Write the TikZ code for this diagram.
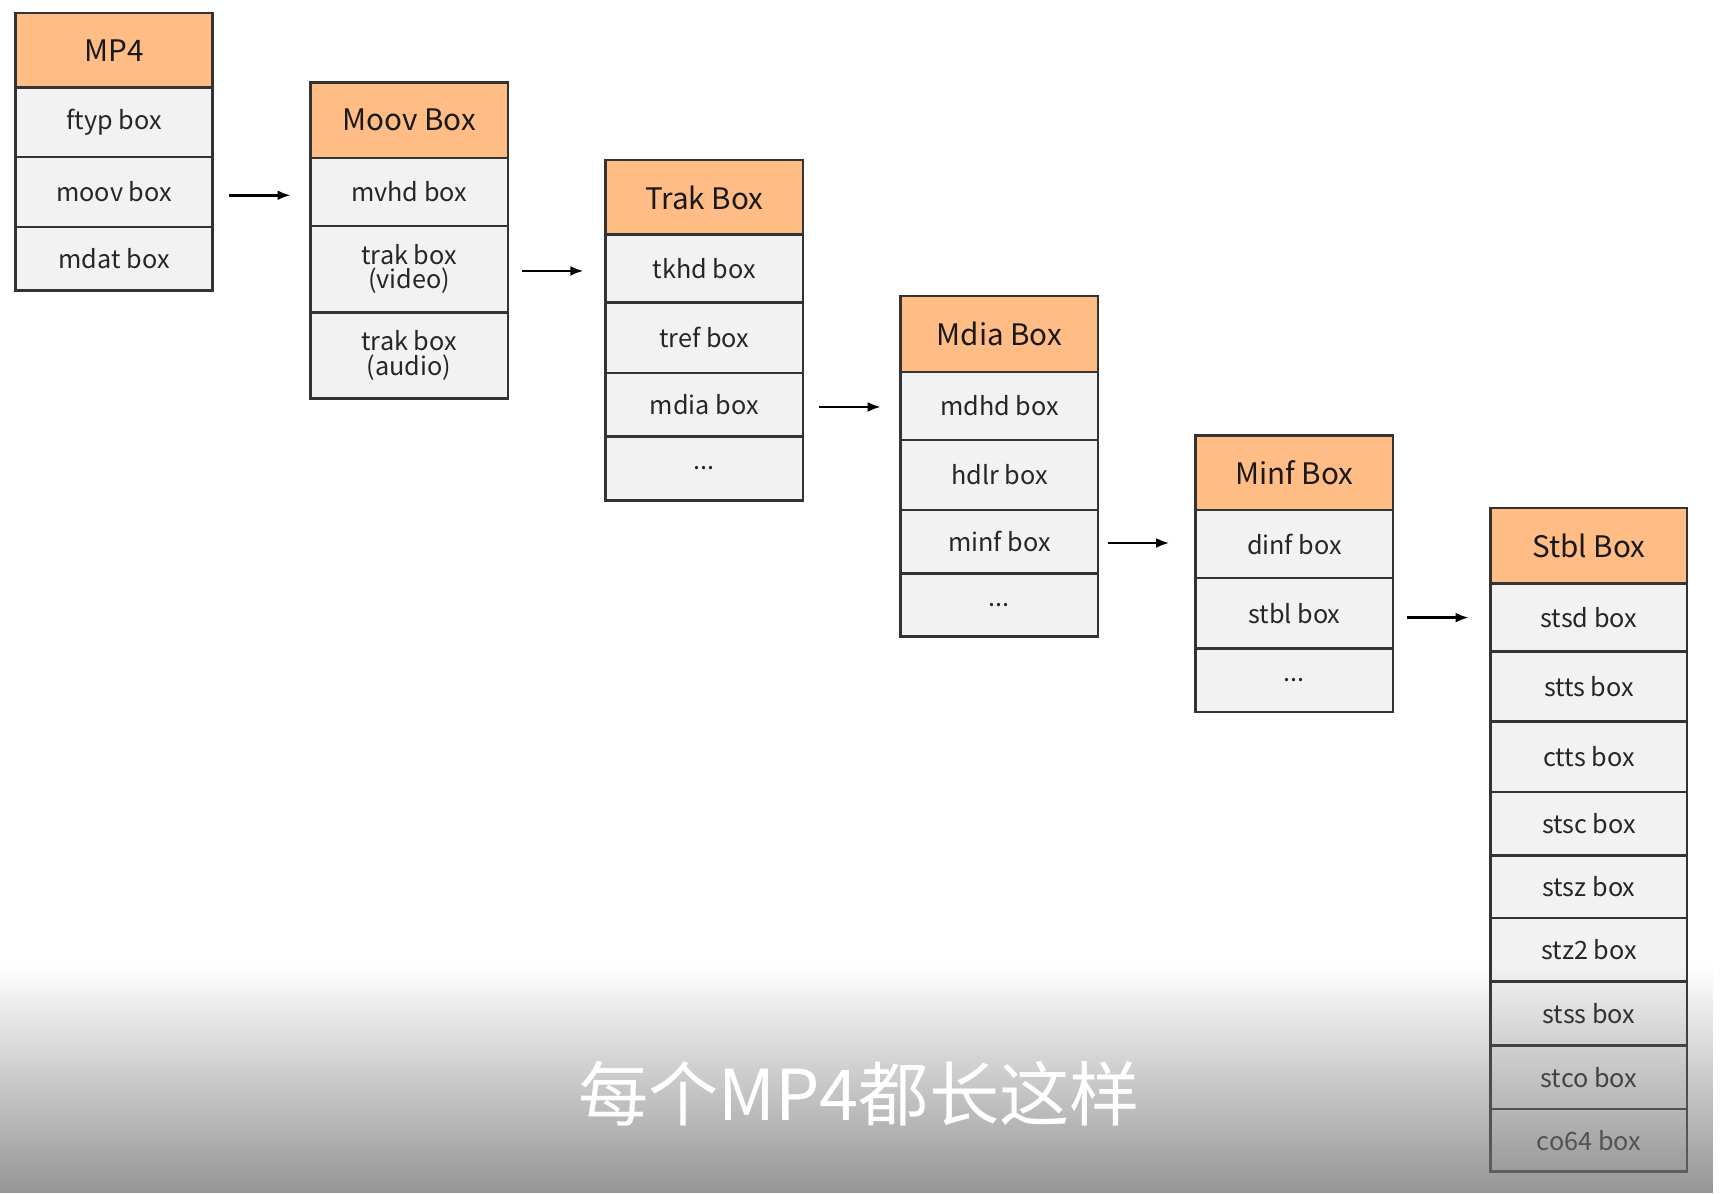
\documentclass[tikz,border=0pt]{standalone}
\usepackage{fontspec}
\setmainfont{Noto Sans CJK SC}
\usetikzlibrary{fadings,arrows.meta}
\tikzfading[name=fadeup, top color=transparent!100, bottom color=transparent!25]
\begin{document}
\begin{tikzpicture}[x=1pt,y=-1pt,
  cell/.style={draw=black!80,line width=2.4pt,fill=black!5},
  head/.style={draw=black!80,line width=2.4pt,fill=orange!45!white!95!red},
  txt/.style={font=\fontsize{23}{26}\selectfont,align=center,text=black!85},
  htxt/.style={font=\fontsize{27}{30}\selectfont,text=black!90},
  arr/.style={-{Latex[length=12pt,width=9pt]},line width=2.4pt}]
\useasboundingbox (0,0) rectangle (1568,1088);
\fill[white] (0,0) rectangle (1568,1088);
\newcommand{\hd}[6]{\draw[head] (#2,#3) rectangle (#4,#5); \node[htxt] (#1) at ({(#2+#4)/2},{(#3+#5)/2}) {#6};}
\newcommand{\cl}[6]{\draw[cell] (#2,#3) rectangle (#4,#5); \node[txt] (#1) at ({(#2+#4)/2},{(#3+#5)/2}) {#6};}
% MP4
\hd{mp4}{14}{12}{194}{80}{MP4}
\cl{ftyp}{14}{80}{194}{143}{ftyp box}
\cl{moov}{14}{143}{194}{207}{moov box}
\cl{mdat}{14}{207}{194}{265}{mdat box}
% Moov
\hd{moovh}{283}{75}{463}{144}{Moov Box}
\cl{mvhd}{283}{144}{463}{206}{mvhd box}
\cl{trakv}{283}{206}{463}{285}{trak box\\[-4pt](video)}
\cl{traka}{283}{285}{463}{363}{trak box\\[-4pt](audio)}
% Trak
\hd{trakh}{552}{146}{732}{214}{Trak Box}
\cl{tkhd}{552}{214}{732}{276}{tkhd box}
\cl{tref}{552}{276}{732}{340}{tref box}
\cl{mdia}{552}{340}{732}{398}{mdia box}
\cl{td}{552}{398}{732}{456}{...}
% Mdia
\hd{mdiah}{821}{270}{1001}{339}{Mdia Box}
\cl{mdhd}{821}{339}{1001}{401}{mdhd box}
\cl{hdlr}{821}{401}{1001}{465}{hdlr box}
\cl{minf}{821}{465}{1001}{523}{minf box}
\cl{md}{821}{523}{1001}{580}{...}
% Minf
\hd{minfh}{1090}{397}{1270}{465}{Minf Box}
\cl{dinf}{1090}{465}{1270}{527}{dinf box}
\cl{stbl}{1090}{527}{1270}{591}{stbl box}
\cl{mnd}{1090}{591}{1270}{649}{...}
% Stbl
\hd{stblh}{1359}{463}{1538}{532}{Stbl Box}
\cl{stsd}{1359}{532}{1538}{594}{stsd box}
\cl{stts}{1359}{594}{1538}{658}{stts box}
\cl{ctts}{1359}{658}{1538}{722}{ctts box}
\cl{stsc}{1359}{722}{1538}{780}{stsc box}
\cl{stsz}{1359}{780}{1538}{837}{stsz box}
\cl{stz}{1359}{837}{1538}{895}{stz2 box}
\cl{stss}{1359}{895}{1538}{953}{stss box}
\cl{stco}{1359}{953}{1538}{1011}{stco box}
\cl{co}{1359}{1011}{1538}{1068}{co64 box}
% arrows
\coordinate (a1) at (209,178); \coordinate (b1) at (265,178);
\coordinate (a2) at (476,247); \coordinate (b2) at (532,247);
\coordinate (a3) at (747,371); \coordinate (b3) at (803,371);
\coordinate (a4) at (1010,495); \coordinate (b4) at (1066,495);
\coordinate (a5) at (1283,563); \coordinate (b5) at (1339,563);
\foreach \i in {1,...,5}{\draw[arr] (a\i) -- (b\i);}
% bottom fade
\fill[black!55, path fading=fadeup] (0,880) rectangle (1568,1088);
\node[text=white,font=\fontsize{64}{70}\selectfont] (sub) at (783,997) {每个MP4都长这样};
\end{tikzpicture}
\end{document}
